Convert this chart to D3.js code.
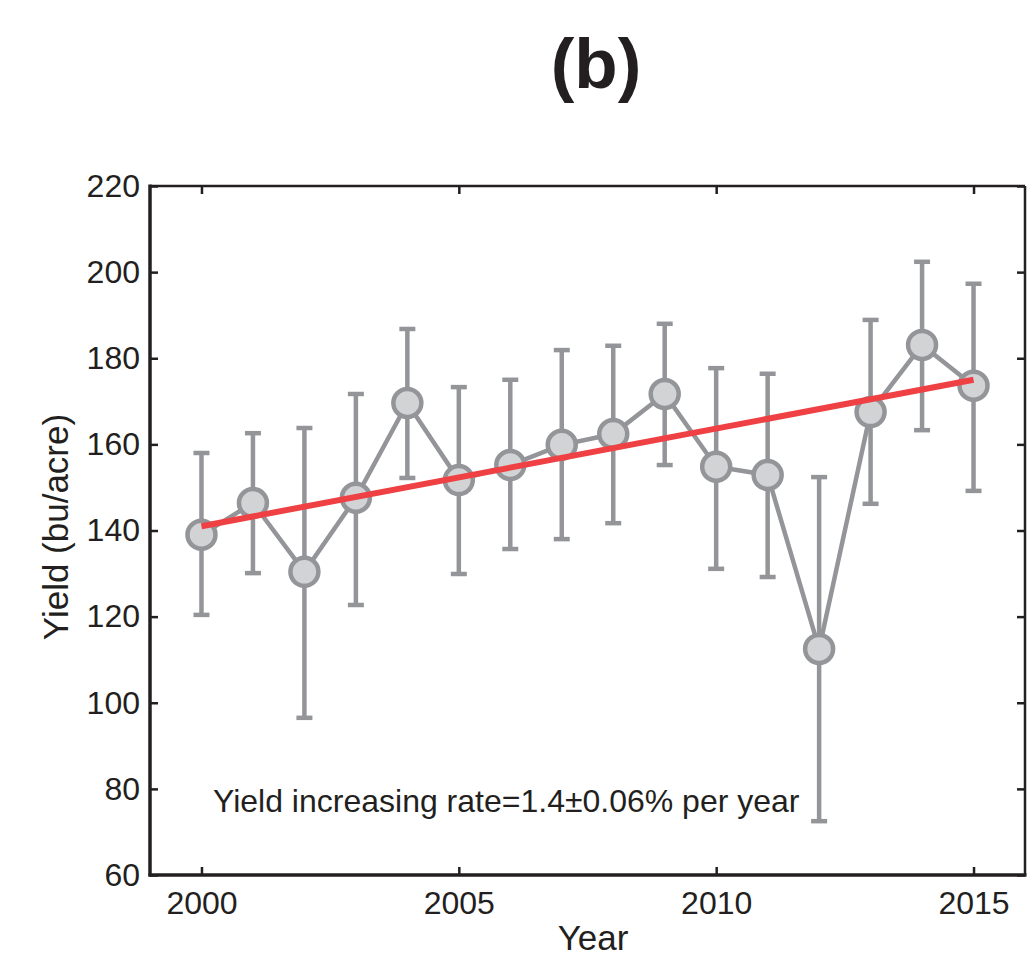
<!DOCTYPE html>
<html><head><meta charset="utf-8">
<script src="https://cdn.jsdelivr.net/npm/d3@7"></script>
<style>body{margin:0;background:#fff}svg{display:block}text{font-family:"Liberation Sans",Arial,sans-serif;fill:#231f20}</style>
</head><body>
<svg id="c" width="1032" height="964"></svg>
<script>
const years = [2000,2001,2002,2003,2004,2005,2006,2007,2008,2009,2010,2011,2012,2013,2014,2015];
const yieldMean = [139.0,146.4,130.4,147.6,169.6,151.7,155.2,159.9,162.4,171.7,154.8,152.9,112.5,167.5,183.1,173.6];
const yieldHigh = [158.0,162.6,163.8,171.7,186.8,173.3,175.0,181.9,182.9,188.0,177.7,176.4,152.4,188.9,202.4,197.3];
const yieldLow  = [120.4,130.1,96.5,122.7,152.2,129.9,135.7,138.0,141.7,155.2,131.1,129.2,72.5,146.2,163.3,149.2];
const trendYears = [2000,2015];
const trendValues = [141.0,175.0];
const xTicks = [2000,2005,2010,2015];
const yTicks = [60,80,100,120,140,160,180,200,220];

const svg = d3.select("#c");
const L=150,R=1025,T=186,B=875;
const x = d3.scaleLinear().domain([1999,2016]).range([L,R]);
const y = d3.scaleLinear().domain([60,220]).range([B,T]);
const grey="#939598", fillc="#d1d3d4";

// title
svg.append("text").attr("x",596).attr("y",88).attr("text-anchor","middle")
  .attr("font-size",71).attr("font-weight","bold").text("(b)");

// axes
const ax = svg.append("g");
ax.append("g").attr("transform",`translate(0,${B})`)
  .call(d3.axisBottom(x).tickValues(xTicks).tickFormat(d3.format("d")).tickSizeInner(-8).tickSizeOuter(0).tickPadding(16));
ax.append("g").attr("transform",`translate(0,${T})`)
  .call(d3.axisTop(x).tickValues(xTicks).tickFormat("").tickSizeInner(-8).tickSizeOuter(0));
ax.append("g").attr("transform",`translate(${L},0)`)
  .call(d3.axisLeft(y).tickValues(yTicks).tickSizeInner(-8).tickSizeOuter(0).tickPadding(10));
ax.append("g").attr("transform",`translate(${R},0)`)
  .call(d3.axisRight(y).tickValues(yTicks).tickFormat("").tickSizeInner(-8).tickSizeOuter(0));
ax.selectAll(".domain").remove();
ax.selectAll(".tick line").attr("stroke","#231f20").attr("stroke-width",2.5);
ax.selectAll(".tick text").attr("font-size",32).attr("fill","#231f20").attr("font-family","'Liberation Sans',Arial,sans-serif");
svg.append("line").attr("x1",L).attr("x2",R).attr("y1",T).attr("y2",T).attr("stroke","#231f20").attr("stroke-width",2.5);
svg.append("line").attr("x1",R).attr("x2",R).attr("y1",T).attr("y2",B).attr("stroke","#231f20").attr("stroke-width",2.5);
svg.append("line").attr("x1",L).attr("x2",L).attr("y1",T-1.5).attr("y2",B+1.5).attr("stroke","#231f20").attr("stroke-width",3.5);
svg.append("line").attr("x1",L-1.5).attr("x2",R+1.5).attr("y1",B).attr("y2",B).attr("stroke","#231f20").attr("stroke-width",3.5);

// labels
svg.append("text").attr("transform","translate(68,527) rotate(-90)").attr("text-anchor","middle")
  .attr("font-size",35).text("Yield (bu/acre)");
svg.append("text").attr("x",593).attr("y",950).attr("text-anchor","middle").attr("font-size",35).text("Year");
svg.append("text").attr("x",213).attr("y",812).attr("font-size",32).text("Yield increasing rate=1.4\u00B10.06% per year");

const data = years.map((d,i)=>({yr:d,m:yieldMean[i],hi:yieldHigh[i],lo:yieldLow[i]}));
// error bars
const eb = svg.append("g").attr("stroke",grey).attr("stroke-width",4.5);
eb.selectAll("line.v").data(data).join("line").attr("x1",d=>x(d.yr)).attr("x2",d=>x(d.yr)).attr("y1",d=>y(d.hi)).attr("y2",d=>y(d.lo));
eb.selectAll("line.t").data(data).join("line").attr("x1",d=>x(d.yr)-8).attr("x2",d=>x(d.yr)+8).attr("y1",d=>y(d.hi)).attr("y2",d=>y(d.hi));
eb.selectAll("line.b").data(data).join("line").attr("x1",d=>x(d.yr)-8).attr("x2",d=>x(d.yr)+8).attr("y1",d=>y(d.lo)).attr("y2",d=>y(d.lo));
// connecting line
svg.append("path").datum(data).attr("fill","none").attr("stroke",grey).attr("stroke-width",4.5)
  .attr("d",d3.line().x(d=>x(d.yr)).y(d=>y(d.m)));
// markers
svg.append("g").selectAll("circle").data(data).join("circle")
  .attr("cx",d=>x(d.yr)).attr("cy",d=>y(d.m)).attr("r",14)
  .attr("fill",fillc).attr("stroke",grey).attr("stroke-width",4.5);
// trend
svg.append("line").attr("x1",x(trendYears[0])).attr("x2",x(trendYears[1]))
  .attr("y1",y(trendValues[0])).attr("y2",y(trendValues[1]))
  .attr("stroke","#ef4044").attr("stroke-width",6);
</script>
</body></html>
